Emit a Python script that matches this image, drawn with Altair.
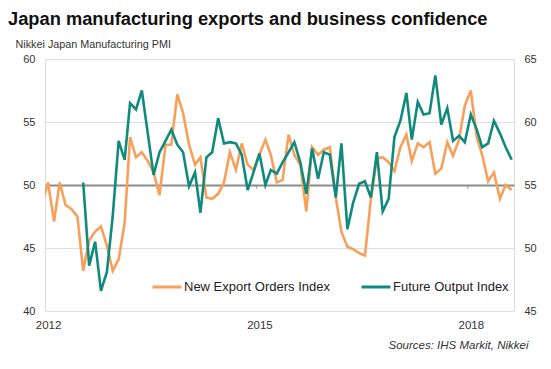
import altair as alt
import pandas as pd

# ---- data ----
series_names = ["New Export Orders Index", "Future Output Index"]

# New Export Orders Index, left axis, Dec 2011 .. Aug 2018 (Dec 2011 is clipped at the left edge)
export_start = "2011-12-01"
export_orders = [
    48.5,
    50.2, 47.1, 50.2, 48.4, 48.1, 47.5, 43.2, 45.6, 46.3, 46.7, 45.2, 43.2,
    44.1, 47.0, 53.8, 52.2, 52.6, 51.9, 51.0, 49.2, 53.2, 53.2, 57.2, 55.7,
    53.2, 51.6, 52.2, 49.0, 48.9, 49.3, 50.2, 52.6, 51.2, 53.3, 51.6, 51.2,
    52.4, 53.6, 52.4, 50.2, 50.4, 54.0, 52.4, 51.6, 47.9, 53.0, 52.4, 52.8,
    53.0, 49.0, 46.3, 45.1, 44.9, 44.6, 44.4, 48.9, 52.1, 52.2, 51.8, 51.1,
    53.0, 54.0, 51.9, 53.3, 53.0, 53.4, 50.9, 51.3, 53.4, 52.3, 53.6, 56.3,
    57.5, 53.8, 52.4, 50.3, 51.0, 48.9, 50.0, 49.6,
]

# Future Output Index, right axis, Jul 2012 .. Aug 2018
future_start = "2012-07-01"
future_output = [
    55.2, 48.6, 50.5, 46.6, 48.1, 52.5,
    58.5, 57.0, 61.5, 61.0, 62.5, 59.1, 55.8, 57.6, 58.5, 59.4, 58.2, 57.6,
    54.9, 56.0, 52.8, 57.2, 57.6, 60.3, 58.3, 58.4, 58.3, 57.4, 54.6, 56.0,
    57.5, 55.0, 56.2, 55.9, 56.8, 57.6, 58.4, 56.8, 54.3, 57.9, 55.5, 57.6,
    57.4, 54.0, 58.3, 51.5, 53.6, 55.1, 55.3, 54.0, 57.6, 52.9, 53.9, 58.8,
    60.1, 62.3, 58.6, 61.6, 60.6, 60.7, 63.7, 59.8, 61.1, 58.5, 58.9, 58.4,
    60.6, 59.4, 58.0, 58.3, 60.1, 59.1, 58.0, 57.0,
]

# small axis tick marks drawn on the 50 line
tick_dates = ["2014-12-16", "2017-12-16"]

left_ticks = [40, 45, 50, 55, 60]
right_ticks = [45, 50, 55, 60, 65]

orange = "#F6A05A"
teal = "#118A7E"

export_df = pd.DataFrame({
    "date": pd.date_range(export_start, periods=len(export_orders), freq="MS"),
    "value": export_orders,
    "series": series_names[0],
})
future_df = pd.DataFrame({
    "date": pd.date_range(future_start, periods=len(future_output), freq="MS"),
    "value": future_output,
    "series": series_names[1],
})
tick_df = pd.DataFrame({"date": pd.to_datetime(tick_dates)})

FONT = "Liberation Sans"

x_scale = alt.Scale(
    domain=[alt.DateTime(year=2011, month=12, date=16),
            alt.DateTime(year=2018, month=8, date=13)],
    nice=False,
)
x_axis = alt.Axis(
    values=[alt.DateTime(year=2012, month=1, date=1),
            alt.DateTime(year=2015, month=1, date=1),
            alt.DateTime(year=2018, month=1, date=1)],
    format="%Y",
    labelFontSize=11.5, labelColor="#333", labelPadding=8, labelFont=FONT,
    ticks=False, domain=False, grid=False,
    title="Sources: IHS Markit, Nikkei",
    titleFontStyle="italic", titleFontWeight="normal", titleFontSize=11.5,
    titleColor="#333", titleFont=FONT,
    titleX=483, titleY=37, titleAlign="right", titleBaseline="alphabetic",
)
x_enc = alt.X("date:T", scale=x_scale, axis=x_axis)

color_scale = alt.Scale(domain=series_names, range=[orange, teal])
legend = alt.Legend(
    title=None, orient="none", legendX=106, legendY=212,
    direction="horizontal", symbolType="stroke", symbolSize=841,
    symbolStrokeWidth=3, labelFontSize=13, labelColor="#222", labelFont=FONT,
    labelOffset=1, columnPadding=25, labelLimit=300,
)

left_axis = alt.Axis(
    values=left_ticks,
    title="Nikkei Japan Manufacturing PMI", titleAngle=0, titleAlign="left",
    titleBaseline="alphabetic", titleX=-30, titleY=-12, titleFontSize=10.8,
    titleFontWeight="normal", titleColor="#333", titleFont=FONT,
    labelFontSize=11, labelColor="#333", labelPadding=10, labelFont=FONT,
    ticks=False, domain=False,
    gridColor={"condition": {"test": "datum.value === 50", "value": "#8c8c8c"}, "value": "#dedede"},
    gridWidth={"condition": {"test": "datum.value === 50", "value": 1.8}, "value": 1.2},
)
left_scale = alt.Scale(domain=[40, 60], nice=False, zero=False)

export_line = alt.Chart(export_df).mark_line(strokeWidth=2.6, clip=True).encode(
    x=x_enc,
    y=alt.Y("value:Q", scale=left_scale, axis=left_axis),
    color=alt.Color("series:N", scale=color_scale, legend=legend),
)

tick_marks = alt.Chart(tick_df).mark_rule(color="#8c8c8c", strokeWidth=1).encode(
    x=x_enc,
    y=alt.datum(50),
    y2=alt.datum(49.72),
)

future_line = alt.Chart(future_df).mark_line(strokeWidth=2.6, clip=True).encode(
    x=x_enc,
    y=alt.Y("value:Q",
            scale=alt.Scale(domain=[45, 65], nice=False, zero=False),
            axis=alt.Axis(orient="right", values=right_ticks, title=None,
                          grid=False, ticks=False, domain=False,
                          labelFontSize=11, labelColor="#333", labelPadding=10,
                          labelFont=FONT)),
    color=alt.Color("series:N", scale=color_scale, legend=legend),
)

left_group = alt.layer(export_line, tick_marks)

chart = alt.layer(left_group, future_line).resolve_scale(
    y="independent"
).properties(
    width=469,
    height=252,
    padding={"left": 37, "top": 51, "right": 29, "bottom": 50},
    autosize=alt.AutoSizeParams(type="none"),
    title=alt.TitleParams(
        text="Japan manufacturing exports and business confidence",
        anchor="start", frame="group", dx=-37, offset=9,
        fontSize=18.3, fontWeight="bold", color="#111", font=FONT,
    ),
).configure_view(stroke=None).configure(font=FONT, background="white")

chart.save("out.html", embed_options={"renderer": "svg", "actions": False})
